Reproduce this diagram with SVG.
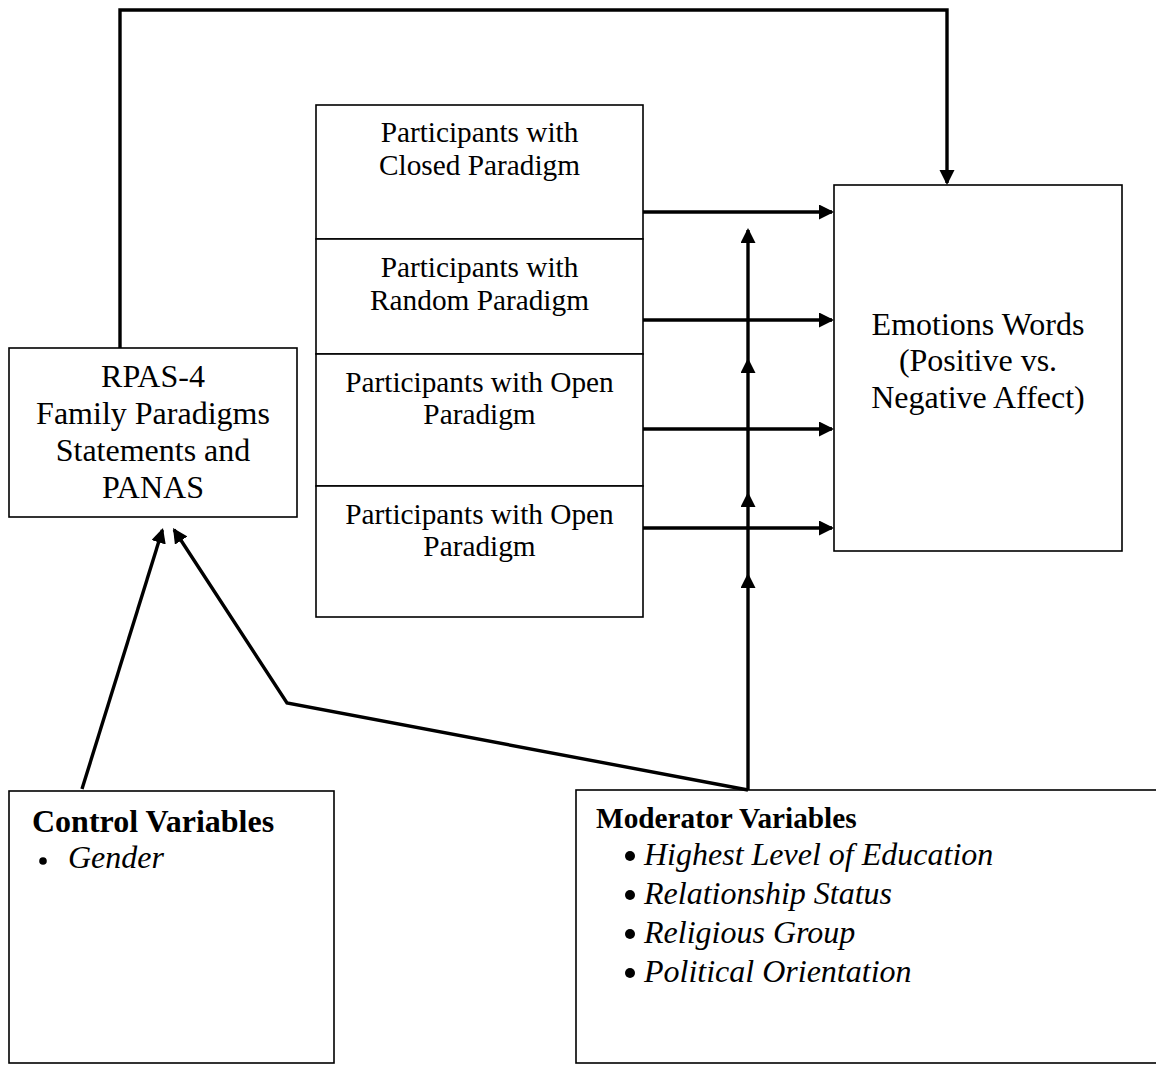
<svg xmlns="http://www.w3.org/2000/svg" width="1156" height="1066" viewBox="0 0 1156 1066">
  <style>
    .box { fill: #fff; stroke: #000; stroke-width: 1.6; }
    .conn { fill: none; stroke: #000; stroke-width: 3.4; stroke-linejoin: miter; }
    .t { font-family: "Liberation Serif", "Times New Roman", serif; fill: #000; }
    .c { text-anchor: middle; }
    .part { font-size: 29.3px; }
    .big { font-size: 32px; }
    .head { font-weight: bold; }
    .item { font-style: italic; font-size: 32px; }
    .bullet { fill: #000; }
  </style>
  <defs>
    <marker id="arrow" markerUnits="userSpaceOnUse" markerWidth="16" markerHeight="16" viewBox="0 0 16 16" refX="13" refY="7.5" orient="auto">
      <path d="M0,0 L15,7.5 L0,15 Z" fill="#000"/>
    </marker>
  </defs>
  <rect width="1156" height="1066" fill="#fff"/>

  <!-- measurement box -->
  <g id="rpas">
    <rect class="box" x="9" y="348" width="288" height="169"/>
    <text class="t c big" x="153" y="387">RPAS-4</text>
    <text class="t c big" x="153" y="424">Family Paradigms</text>
    <text class="t c big" x="153" y="461">Statements and</text>
    <text class="t c big" x="153" y="498">PANAS</text>
  </g>

  <!-- paradigm groups, stacked -->
  <g id="closed">
    <rect class="box" x="316" y="105" width="327" height="134"/>
    <text class="t c part" x="479.5" y="142">Participants with</text>
    <text class="t c part" x="479.5" y="175">Closed Paradigm</text>
  </g>
  <g id="random">
    <rect class="box" x="316" y="239" width="327" height="115"/>
    <text class="t c part" x="479.5" y="277">Participants with</text>
    <text class="t c part" x="479.5" y="310">Random Paradigm</text>
  </g>
  <g id="open1">
    <rect class="box" x="316" y="354" width="327" height="132"/>
    <text class="t c part" x="479.5" y="392">Participants with Open</text>
    <text class="t c part" x="479.5" y="424">Paradigm</text>
  </g>
  <g id="open2">
    <rect class="box" x="316" y="486" width="327" height="131"/>
    <text class="t c part" x="479.5" y="524">Participants with Open</text>
    <text class="t c part" x="479.5" y="556">Paradigm</text>
  </g>

  <!-- outcome -->
  <g id="emotions">
    <rect class="box" x="834" y="185" width="288" height="366"/>
    <text class="t c big" x="978" y="335">Emotions Words</text>
    <text class="t c big" x="978" y="371">(Positive vs.</text>
    <text class="t c big" x="978" y="408">Negative Affect)</text>
  </g>

  <!-- controls -->
  <g id="control">
    <rect class="box" x="9" y="791" width="325" height="272"/>
    <text class="t head" x="32" y="832" font-size="32">Control Variables</text>
    <circle class="bullet" cx="43" cy="861" r="3.8"/>
    <text class="t item" x="68" y="868">Gender</text>
  </g>

  <!-- moderators -->
  <g id="moderator">
    <rect class="box" x="576" y="790" width="600" height="273"/>
    <text class="t head" x="596" y="828" font-size="29.3">Moderator Variables</text>
    <circle class="bullet" cx="630" cy="856" r="5"/>
    <text class="t item" x="644" y="865">Highest Level of Education</text>
    <circle class="bullet" cx="630" cy="895" r="5"/>
    <text class="t item" x="644" y="904">Relationship Status</text>
    <circle class="bullet" cx="630" cy="934" r="5"/>
    <text class="t item" x="644" y="943">Religious Group</text>
    <circle class="bullet" cx="630" cy="973" r="5"/>
    <text class="t item" x="644" y="982">Political Orientation</text>
  </g>

  <g id="connectors">
    <!-- measurement to outcome over the top -->
    <path class="conn" d="M120,348 V10 H947 V183" marker-end="url(#arrow)"/>
    <!-- groups to outcome -->
    <path class="conn" d="M643,212 H832" marker-end="url(#arrow)"/>
    <path class="conn" d="M643,320 H832" marker-end="url(#arrow)"/>
    <path class="conn" d="M643,429 H832" marker-end="url(#arrow)"/>
    <path class="conn" d="M643,528 H832" marker-end="url(#arrow)"/>
    <!-- moderating line, one head per path -->
    <path class="conn" d="M748,790 V575" marker-end="url(#arrow)"/>
    <path class="conn" d="M748,575 V494" marker-end="url(#arrow)"/>
    <path class="conn" d="M748,494 V360" marker-end="url(#arrow)"/>
    <path class="conn" d="M748,360 V230" marker-end="url(#arrow)"/>
    <!-- covariates into measurement -->
    <path class="conn" d="M82,789 L162.4,529.9" marker-end="url(#arrow)"/>
    <path class="conn" d="M748,790 L287,703 L174.1,529.7" marker-end="url(#arrow)"/>
  </g>
</svg>
